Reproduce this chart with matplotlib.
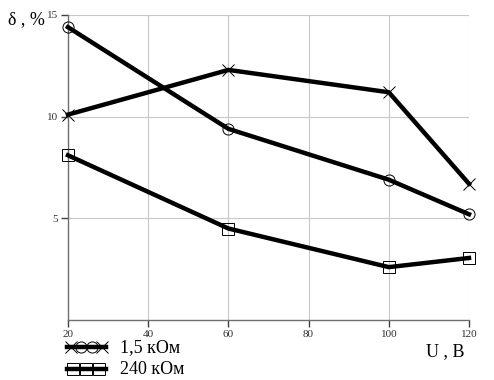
import matplotlib
matplotlib.use("Agg")
import matplotlib.pyplot as plt
from matplotlib.lines import Line2D

# data
u = [20, 60, 100, 120]
d_cross = [10.1, 12.3, 11.2, 6.7]
d_circle = [14.4, 9.4, 6.9, 5.2]
d_square = [8.1, 4.5, 2.6, 3.05]
x_ticks = [20, 40, 60, 80, 100, 120]
y_ticks = [5, 10, 15]
legend_labels = ["1,5 кОм", "240 кОм"]

plt.rcParams['font.family'] = ['Liberation Serif', 'DejaVu Serif']

W, H = 494, 380
fig = plt.figure(figsize=(W / 100, H / 100), dpi=100)
ax = fig.add_axes([68 / W, 1 - 320 / H, 401 / W, 305 / H])

line_kw = dict(color="black", lw=3.2, markerfacecolor="none",
               markeredgecolor="black", markeredgewidth=0.7, ms=8, clip_on=False, zorder=3)
ax.plot(u, d_cross, marker="x", **line_kw)
ax.plot(u, d_circle, marker="o", **line_kw)
ax.plot(u, d_square, marker="s", **line_kw)

ax.set_xlim(20, 120)
ax.set_ylim(0, 15)
ax.set_xticks(x_ticks)
ax.set_yticks(y_ticks)
ax.grid(True, color="#c8c8c8", lw=0.8)
ax.set_axisbelow(True)
for s in ["top", "right"]:
    ax.spines[s].set_visible(False)
for s in ["left", "bottom"]:
    ax.spines[s].set_color("#707070")
    ax.spines[s].set_linewidth(1.0)
ax.tick_params(axis="both", direction="out", length=5, width=1.0, color="#404040",
               labelsize=8, labelcolor="#303030", pad=2)

fig.text(8 / W, 1 - 20 / H, "δ , %", fontsize=13, ha="left", va="center")
fig.text(465 / W, 1 - 352 / H, "U , B", fontsize=13, ha="right", va="center")

# legend, placed in pixel coords like the reference
def px(x, y):
    return x / W, 1 - y / H

x0, x1 = 67, 106
for i, (yy, lab) in enumerate(zip([347, 369], legend_labels)):
    xa, ya = px(x0, yy)
    xb, _ = px(x1, yy)
    fig.add_artist(Line2D([xa, xb], [ya, ya], color="black", lw=3.2))
    if i == 0:
        mk = [("x", 71), ("o", 81), ("o", 92), ("x", 102)]
    else:
        mk = [("s", 73), ("s", 86), ("s", 99)]
    for m, mx in mk:
        fx, fy = px(mx, yy)
        fig.add_artist(Line2D([fx], [fy], marker=m, markerfacecolor="none",
                              markeredgecolor="black", markeredgewidth=0.7,
                              ms=9 if m == "s" else 8, lw=0))
    tx, ty = px(120, yy + 1)
    fig.text(tx, ty, lab, fontsize=13, ha="left", va="center")

fig.savefig("out.png", dpi=100)
